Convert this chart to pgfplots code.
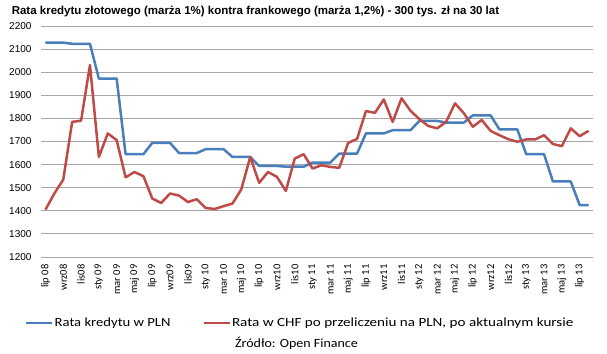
\documentclass[border=0pt]{standalone}
\usepackage{pgfplots}
\pgfplotsset{compat=1.18}
\usepackage{pgfplotstable}
\usepackage{fontspec}
\setmainfont{Liberation Sans}
\newfontfamily\calibri{Carlito}
\definecolor{plnblue}{HTML}{4A7EBB}
\definecolor{chfred}{HTML}{BE4B48}
\definecolor{gridc}{HTML}{A6A6A6}
\pgfplotstableread{
i pln chf
0 2128 1405
1 2128 1475
2 2128 1535
3 2123 1785
4 2123 1790
5 2123 2031
6 1972 1633
7 1972 1735
8 1972 1706
9 1645 1545
10 1645 1568
11 1645 1550
12 1694 1453
13 1694 1434
14 1694 1475
15 1650 1466
16 1650 1438
17 1650 1450
18 1667 1412
19 1667 1408
20 1667 1420
21 1633 1431
22 1633 1493
23 1633 1633
24 1594 1521
25 1594 1568
26 1594 1547
27 1591 1486
28 1591 1626
29 1591 1645
30 1609 1583
31 1609 1597
32 1609 1590
33 1648 1586
34 1648 1694
35 1648 1711
36 1735 1832
37 1735 1824
38 1735 1882
39 1749 1785
40 1749 1887
41 1749 1833
42 1789 1797
43 1789 1767
44 1789 1757
45 1782 1785
46 1782 1865
47 1782 1822
48 1813 1764
49 1813 1793
50 1813 1746
51 1752 1727
52 1752 1710
53 1752 1699
54 1645 1709
55 1645 1709
56 1645 1727
57 1527 1689
58 1527 1680
59 1527 1757
60 1425 1723
61 1425 1746
}\datatable
\begin{document}
\begin{tikzpicture}[x=1pt,y=1pt]
\path[use as bounding box] (0,0) rectangle (607,353);
\begin{axis}[at={(41pt,96pt)}, anchor=south west, scale only axis,
  width=552pt, height=231pt,
  xmin=-0.5, xmax=61.5, ymin=1200, ymax=2200, ytick distance=100,
  xtick={0,2,...,60},
  xticklabels={lip 08,wrz08,lis08,sty 09,mar 09,maj 09,lip 09,wrz09,lis09,sty 10,mar 10,maj 10,lip 10,wrz10,lis10,sty 11,mar 11,maj 11,lip 11,wrz11,lis11,sty 12,mar 12,maj 12,lip 12,wrz12,lis12,sty 13,mar 13,maj 13,lip 13},
  axis line style={draw=none}, tick style={draw=none},
  ymajorgrids, grid style={gridc, line width=0.9pt},
  /pgf/number format/assume math mode=true,
  /pgf/number format/1000 sep={},
  yticklabel style={font=\fontsize{10}{12}\selectfont, xshift=-6pt},
  xticklabel shift=4pt,
  xticklabel style={rotate=90, anchor=east, font=\calibri\fontsize{10.5}{12}\selectfont},
  legend columns=2,
  legend style={at={(-0.029,-0.286)}, anchor=west, draw=none, fill=none, inner sep=0pt,
    font=\calibri\fontsize{12.5}{14}\selectfont,
    nodes={inner sep=1pt},
    /tikz/every even column/.append style={column sep=31pt}},
  legend image code/.code={\draw[#1, line width=2.5pt] (0pt,0pt) -- (26pt,0pt);},
  legend cell align=left,
]
\addplot[plnblue, line width=2.5pt, line join=round] table[x=i, y=pln] {\datatable};
\addlegendentry{\scalebox{1.17}[1]{Rata kredytu w PLN}}
\addplot[chfred, line width=2.5pt, line join=round] table[x=i, y=chf] {\datatable};
\addlegendentry{\scalebox{1.21}[1]{Rata w CHF po przeliczeniu na PLN, po aktualnym kursie}}
\end{axis}
\node at (255.5,341) {\fontsize{11.5}{14}\selectfont\bfseries Rata  kredytu  złotowego (marża 1\%)  kontra frankowego  (marża 1,2\%)  - 300 tys. zł na 30 lat};
\node at (296.5,10) {\calibri\fontsize{12.5}{14}\selectfont\scalebox{1.12}[1]{Źródło: Open Finance}};
\end{tikzpicture}
\end{document}
